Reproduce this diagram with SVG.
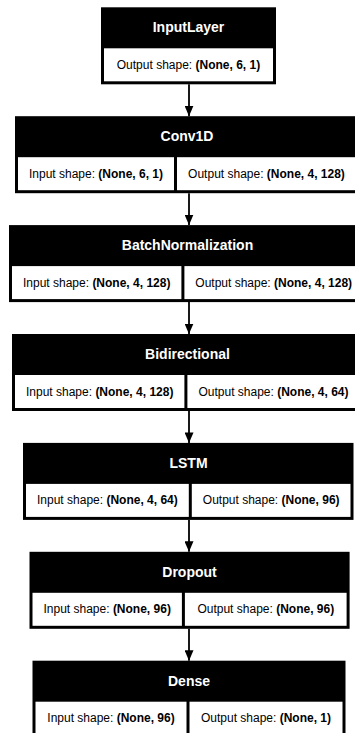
<svg xmlns="http://www.w3.org/2000/svg" width="355" height="733" viewBox="0 0 355 733">
  <defs>
    <marker id="arrow" markerUnits="userSpaceOnUse" markerWidth="9" markerHeight="11" refX="4.5" refY="10.5" orient="0">
      <path d="M0,0 L9,0 L4.5,10.5 Z" fill="#000"/>
    </marker>
  </defs>
  <style>
    .box { fill: #000; }
    .cell { fill: #fff; }
    .title { font-family: "Liberation Sans", Arial, sans-serif; font-size: 14px; font-weight: bold; fill: #fff; text-anchor: middle; }
    .shape { font-family: "Liberation Sans", Arial, sans-serif; font-size: 12px; fill: #000; text-anchor: middle; }
    .shape tspan { font-weight: bold; }
    .edge { stroke: #000; stroke-width: 1.8; fill: none; }
  </style>
  <rect width="355" height="733" fill="#fff"/>

  <!-- connectors -->
  <g id="edges">
    <line class="edge" x1="189" y1="84.3" x2="189" y2="116.2" marker-end="url(#arrow)"/>
    <line class="edge" x1="189" y1="193.2" x2="189" y2="225.1" marker-end="url(#arrow)"/>
    <line class="edge" x1="189" y1="302.1" x2="189" y2="334" marker-end="url(#arrow)"/>
    <line class="edge" x1="189" y1="411" x2="189" y2="442.9" marker-end="url(#arrow)"/>
    <line class="edge" x1="189" y1="519.9" x2="189" y2="551.8" marker-end="url(#arrow)"/>
    <line class="edge" x1="189" y1="628.8" x2="189" y2="660.7" marker-end="url(#arrow)"/>
  </g>

  <!-- InputLayer -->
  <g id="input_layer" transform="translate(0,7.3)">
    <rect class="box" x="101" y="0" width="175" height="77"/>
    <text class="title" x="188.5" y="25">InputLayer</text>
    <rect class="cell" x="104" y="41" width="169" height="33"/>
    <text class="shape" x="188.5" y="61.5">Output shape: <tspan>(None, 6, 1)</tspan></text>
  </g>

  <!-- Conv1D -->
  <g id="conv1d" transform="translate(0,116.2)">
    <rect class="box" x="15" y="0" width="344" height="77"/>
    <text class="title" x="187" y="25">Conv1D</text>
    <rect class="cell" x="18" y="41" width="156" height="33"/>
    <rect class="cell" x="177" y="41" width="179" height="33"/>
    <text class="shape" x="96" y="61.5">Input shape: <tspan>(None, 6, 1)</tspan></text>
    <text class="shape" x="266.5" y="61.5">Output shape: <tspan>(None, 4, 128)</tspan></text>
  </g>

  <!-- BatchNormalization -->
  <g id="batch_normalization" transform="translate(0,225.1)">
    <rect class="box" x="9" y="0" width="357" height="77"/>
    <text class="title" x="187.5" y="25">BatchNormalization</text>
    <rect class="cell" x="12" y="41" width="169.4" height="33"/>
    <rect class="cell" x="184.4" y="41" width="178.7" height="33"/>
    <text class="shape" x="96.7" y="61.5">Input shape: <tspan>(None, 4, 128)</tspan></text>
    <text class="shape" x="273.7" y="61.5">Output shape: <tspan>(None, 4, 128)</tspan></text>
  </g>

  <!-- Bidirectional -->
  <g id="bidirectional" transform="translate(0,334)">
    <rect class="box" x="12" y="0" width="350.5" height="77"/>
    <text class="title" x="187.5" y="25">Bidirectional</text>
    <rect class="cell" x="15" y="41" width="169.4" height="33"/>
    <rect class="cell" x="187.4" y="41" width="172.1" height="33"/>
    <text class="shape" x="99.7" y="61.5">Input shape: <tspan>(None, 4, 128)</tspan></text>
    <text class="shape" x="273.5" y="61.5">Output shape: <tspan>(None, 4, 64)</tspan></text>
  </g>

  <!-- LSTM -->
  <g id="lstm" transform="translate(0,442.9)">
    <rect class="box" x="23" y="0" width="330.5" height="77"/>
    <text class="title" x="188.5" y="25">LSTM</text>
    <rect class="cell" x="26" y="41" width="162.8" height="33"/>
    <rect class="cell" x="191.8" y="41" width="158.7" height="33"/>
    <text class="shape" x="107.4" y="61.5">Input shape: <tspan>(None, 4, 64)</tspan></text>
    <text class="shape" x="271.2" y="61.5">Output shape: <tspan>(None, 96)</tspan></text>
  </g>

  <!-- Dropout -->
  <g id="dropout" transform="translate(0,551.8)">
    <rect class="box" x="29.5" y="0" width="320.1" height="77"/>
    <text class="title" x="189.5" y="25">Dropout</text>
    <rect class="cell" x="32.5" y="41" width="149.4" height="33"/>
    <rect class="cell" x="184.9" y="41" width="161.7" height="33"/>
    <text class="shape" x="107.2" y="61.5">Input shape: <tspan>(None, 96)</tspan></text>
    <text class="shape" x="265.8" y="61.5">Output shape: <tspan>(None, 96)</tspan></text>
  </g>

  <!-- Dense -->
  <g id="dense" transform="translate(0,660.7)">
    <rect class="box" x="32.5" y="0" width="313" height="77"/>
    <text class="title" x="189" y="25">Dense</text>
    <rect class="cell" x="35.5" y="41" width="151" height="33"/>
    <rect class="cell" x="189.5" y="41" width="153" height="33"/>
    <text class="shape" x="111" y="61.5">Input shape: <tspan>(None, 96)</tspan></text>
    <text class="shape" x="266" y="61.5">Output shape: <tspan>(None, 1)</tspan></text>
  </g>
</svg>
